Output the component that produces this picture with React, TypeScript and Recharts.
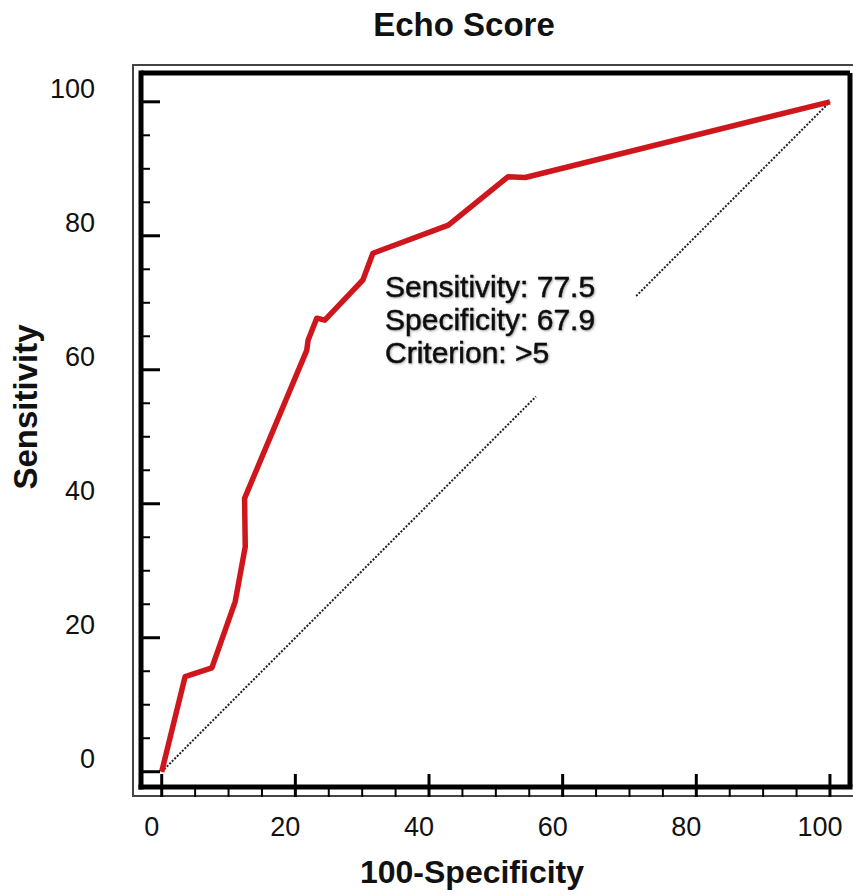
import React from "react";
import { LineChart, Line, XAxis, YAxis, ReferenceLine } from "recharts";

// ROC curve (100-Specificity, Sensitivity)
const rocFpr = [0, 3.5, 7.5, 11, 12.5, 12.4, 21.7, 21.9, 23.2, 24.4, 28.2, 30.1, 31.6, 42.9, 51.8, 54.4, 100];
const rocTpr = [0, 14.2, 15.5, 25.4, 33.6, 40.8, 62.9, 64.4, 67.7, 67.4, 71.4, 73.4, 77.4, 81.6, 88.8, 88.7, 100];

// chance diagonal, broken where the annotation box sits
const chanceX = [0, 56, 63, 71, 100];
const chanceY = [0, 56, null, 71, 100];

const allTicks = [0, 5, 10, 15, 20, 25, 30, 35, 40, 45, 50, 55, 60, 65, 70, 75, 80, 85, 90, 95, 100];
const majorTicks = [0, 20, 40, 60, 80, 100];

const xDomain = [-3.1, 103];
const yDomain = [-2.28, 104.3];

const annotation = ["Sensitivity: 77.5", "Specificity: 67.9", "Criterion: >5"];

const rocData = rocFpr.map((x, i) => ({ x, y: rocTpr[i] }));
const chanceData = chanceX.map((x, i) => ({ x, y: chanceY[i] }));

const FONT = '"Liberation Sans", Arial, Helvetica, sans-serif';

function XTick(props: any) {
  const { x, y, payload } = props;
  const v = payload.value;
  const major = majorTicks.includes(v);
  return (
    <g>
      <line x1={x} x2={x} y1={major ? y - 13 : y} y2={y + 10} stroke="#000" strokeWidth={major ? 3 : 2} />
      {major && (
        <text x={x - 10} y={y + 49} textAnchor="middle" fontSize={27} fontFamily={FONT} fill="#111">
          {v}
        </text>
      )}
    </g>
  );
}

function YTick(props: any) {
  const { x, y, payload } = props;
  const v = payload.value;
  const major = majorTicks.includes(v);
  return (
    <g>
      <line x1={x + 2} x2={x + (major ? 19 : 9)} y1={y} y2={y} stroke="#000" strokeWidth={major ? 3 : 2} />
      {major && (
        <text x={x - 46} y={y - 4} textAnchor="end" fontSize={27} fontFamily={FONT} fill="#111">
          {v}
        </text>
      )}
    </g>
  );
}

export default function App() {
  return (
    <div style={{ position: "absolute", left: 0, top: 0, width: 853, height: 895, background: "#fff" }}>
      <div
        style={{
          position: "absolute",
          left: 132,
          top: 64,
          width: 721,
          height: 733,
          boxSizing: "border-box",
          borderLeft: "2px solid #444",
          borderTop: "2px solid #444",
          borderBottom: "2px solid #444",
        }}
      />
      <div style={{ position: "absolute", left: 0, top: 0 }}>
        <LineChart width={853} height={895} margin={{ top: 73, right: 3, bottom: 0, left: 0 }}>
          <XAxis
            type="number"
            dataKey="x"
            domain={xDomain}
            allowDataOverflow
            ticks={allTicks}
            interval={0}
            height={108}
            tickSize={0}
            tickMargin={0}
            tickLine={false}
            axisLine={{ stroke: "#000", strokeWidth: 5, strokeLinecap: "square" }}
            tick={<XTick />}
          />
          <YAxis
            type="number"
            dataKey="y"
            domain={yDomain}
            allowDataOverflow
            ticks={allTicks}
            interval={0}
            width={141}
            tickSize={0}
            tickMargin={0}
            tickLine={false}
            axisLine={{ stroke: "#000", strokeWidth: 5, strokeLinecap: "square" }}
            tick={<YTick />}
          />
          <ReferenceLine y={yDomain[1]} stroke="#000" strokeWidth={5} ifOverflow="visible" />
          <ReferenceLine x={xDomain[1]} stroke="#000" strokeWidth={5} ifOverflow="visible" />
          <Line
            data={chanceData}
            dataKey="y"
            type="linear"
            stroke="#222"
            strokeWidth={2}
            strokeDasharray="2 1.6"
            dot={false}
            activeDot={false}
            isAnimationActive={false}
          />
          <Line
            data={rocData}
            dataKey="y"
            type="linear"
            stroke="#cf161c"
            strokeWidth={5.5}
            strokeLinejoin="round"
            dot={false}
            activeDot={false}
            isAnimationActive={false}
          />
        </LineChart>
      </div>
      <svg width={853} height={895} style={{ position: "absolute", left: 0, top: 0, pointerEvents: "none" }}>
        <defs>
          <filter id="soft" x="-5%" y="-20%" width="110%" height="140%">
            <feDropShadow dx="1" dy="1" stdDeviation="0.8" floodColor="#000" floodOpacity="0.35" />
          </filter>
        </defs>
        <text x={464} y={36} textAnchor="middle" fontSize={33} fontWeight="bold" fontFamily={FONT} fill="#111">
          Echo Score
        </text>
        <text x={472} y={883} textAnchor="middle" fontSize={32} fontWeight="bold" fontFamily={FONT} fill="#111">
          100-Specificity
        </text>
        <text
          transform="translate(37, 407) rotate(-90)"
          textAnchor="middle"
          fontSize={33}
          fontWeight="bold"
          fontFamily={FONT}
          fill="#111"
        >
          Sensitivity
        </text>
        <g filter="url(#soft)">
          {annotation.map((t, i) => (
            <text key={t} x={385} y={297 + i * 33} fontSize={30} fontFamily={FONT} fill="#111" stroke="#111" strokeWidth={0.5}>
              {t}
            </text>
          ))}
        </g>
      </svg>
    </div>
  );
}
